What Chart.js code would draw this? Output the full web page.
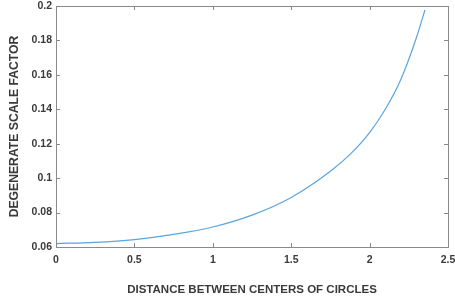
<!DOCTYPE html>
<html><head><meta charset="utf-8">
<script src="https://cdn.jsdelivr.net/npm/chart.js@4/dist/chart.umd.min.js"></script>
<style>html,body{margin:0;padding:0;background:#fff}#w{width:455px;height:305px}</style>
</head><body><div id="w"><canvas id="c" width="455" height="305"></canvas></div>
<script>
const distances = [0, 0.25, 0.5, 0.75, 1.0, 1.25, 1.5, 1.75, 1.875, 2.0, 2.1, 2.2, 2.3, 2.353];
const scaleFactor = [0.0620, 0.0627, 0.0643, 0.0673, 0.0716, 0.0785, 0.0888, 0.1040, 0.1138, 0.1265, 0.1400, 0.1575, 0.1820, 0.1977];
const xTicks = [0, 0.5, 1, 1.5, 2, 2.5];
const yTicks = [0.06, 0.08, 0.1, 0.12, 0.14, 0.16, 0.18, 0.2];
const xTitle = 'DISTANCE BETWEEN CENTERS OF CIRCLES';
const yTitle = 'DEGENERATE SCALE FACTOR';

const pts = distances.map((d, i) => ({x: d, y: scaleFactor[i]}));
const FONT = "'Liberation Sans', Arial, sans-serif";
const AX = '#8a8a8a';

const innerTicks = {
  id: 'innerTicks',
  afterDraw(chart) {
    const {ctx, chartArea: a, scales: {x, y}} = chart;
    ctx.save();
    ctx.strokeStyle = AX; ctx.lineWidth = 1;
    ctx.beginPath();
    xTicks.forEach(v => {
      const px = Math.round(x.getPixelForValue(v)) + 0.5;
      ctx.moveTo(px, a.bottom); ctx.lineTo(px, a.bottom - 4);
      ctx.moveTo(px, a.top); ctx.lineTo(px, a.top + 4);
    });
    yTicks.forEach(v => {
      const py = Math.round(y.getPixelForValue(v)) + 0.5;
      ctx.moveTo(a.left, py); ctx.lineTo(a.left + 4, py);
      ctx.moveTo(a.right, py); ctx.lineTo(a.right - 4, py);
    });
    ctx.stroke();
    ctx.strokeRect(Math.round(a.left) + 0.5, Math.round(a.top) + 0.5, Math.round(a.right - a.left), Math.round(a.bottom - a.top));
    ctx.restore();
  }
};

new Chart(document.getElementById('c'), {
  type: 'scatter',
  data: { datasets: [{
    data: pts, showLine: true, borderColor: '#5aa5dc', borderWidth: 1.2,
    pointRadius: 0, cubicInterpolationMode: 'monotone', fill: false
  }]},
  options: {
    responsive: false, animation: false, devicePixelRatio: 1,
    layout: { padding: {left: 0, right: 7, top: 6, bottom: 0} },
    plugins: { legend: {display: false}, tooltip: {enabled: false} },
    scales: {
      x: {
        type: 'linear', min: 0, max: 2.5,
        afterBuildTicks: s => { s.ticks = xTicks.map(v => ({value: v})); },
        afterFit: s => { s.height = 58; s.paddingLeft = 0; s.paddingRight = 0; },
        grid: { display: true, drawOnChartArea: false, drawTicks: false, color: 'transparent' },
        border: { display: false },
        ticks: { color: '#3a3a3a', font: {family: FONT, size: 10.5, weight: 'bold'}, padding: 7,
                 maxRotation: 0, autoSkip: false, callback: v => String(v) },
        title: { display: true, text: xTitle, color: '#3a3a3a',
                 font: {family: FONT, size: 11.5, weight: 'bold'}, padding: {top: 0, bottom: 8} }
      },
      y: {
        type: 'linear', min: 0.06, max: 0.2,
        afterBuildTicks: s => { s.ticks = yTicks.map(v => ({value: v})); },
        afterFit: s => { s.width = 56; s.paddingTop = 0; s.paddingBottom = 0; },
        grid: { display: true, drawOnChartArea: false, drawTicks: false, color: 'transparent' },
        border: { display: false },
        ticks: { color: '#3a3a3a', font: {family: FONT, size: 10.5, weight: 'bold'}, padding: 4,
                 autoSkip: false, callback: v => String(+v.toFixed(2)) },
        title: { display: true, text: yTitle, color: '#3a3a3a',
                 font: {family: FONT, size: 12.2, weight: 'bold'}, padding: {top: 7, bottom: 0} }
      }
    }
  },
  plugins: [innerTicks]
});
</script></body></html>
